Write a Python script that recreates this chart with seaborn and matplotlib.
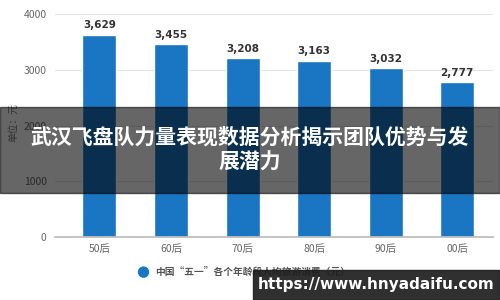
import matplotlib
matplotlib.use("Agg")
import matplotlib.pyplot as plt
import seaborn as sns
import pandas as pd
from matplotlib.patches import Rectangle, Ellipse

categories = ["50后", "60后", "70后", "80后", "90后", "00后"]
values = [3629, 3455, 3208, 3163, 3032, 2777]
yticks = [0, 1000, 2000, 3000, 4000]
legend_label = "中国“五一”各个年龄段人均旅游消费（元）"
ylabel = "单位：元"
title = "武汉飞盘队力量表现数据分析揭示团队优势与发\n展潜力"
url = "https://www.hnyadaifu.com"

sns.set_theme(style="white")
plt.rcParams['font.family'] = ['Noto Sans CJK SC', 'DejaVu Sans']

df = pd.DataFrame({"cat": categories, "val": values})
fig = plt.figure(figsize=(5, 3), dpi=100)
ax = fig.add_axes([0.11, 0.21, 0.876, 0.743])
bar_color = "#1a76c3"
sns.barplot(data=df, x="cat", y="val", color=bar_color, width=0.475, ax=ax, saturation=1)
ax.set_xlim(-0.62, 5.5)
ax.set_ylim(0, 4000)
ax.set_yticks(yticks)
ax.set_yticklabels([str(t) for t in yticks], fontsize=7.5, color="#666666")
ax.tick_params(axis='y', length=0, pad=6)
ax.tick_params(axis='x', length=3, color="#bbbbbb", labelsize=7.5, labelcolor="#666666", pad=2)
for t in yticks[1:]:
    ax.axhline(t, color="#e3e3e3", lw=0.8, zorder=0)
for s in ["top", "right", "left"]:
    ax.spines[s].set_visible(False)
ax.spines["bottom"].set_color("#bbbbbb")
ax.set_xlabel("")
ax.set_ylabel("")
fig.text(0.026, 0.59, ylabel, rotation=90, fontsize=7, color="#777777",
         ha="center", va="center")
for i, v in enumerate(values):
    ax.text(i, v + 80, f"{v:,}", ha="center", va="bottom", fontsize=7.5,
            fontweight="bold", color="#333333", family="DejaVu Sans")

# legend
fig.patches.append(Ellipse((0.287, 0.093), 0.02, 0.0333, transform=fig.transFigure,
                           color=bar_color))
fig.text(0.31, 0.093, legend_label, fontsize=7, color="#555555", va="center", ha="left",
         fontweight="bold")

# overlay band
fig.patches.append(Rectangle((0, 0.357), 1, 0.287, transform=fig.transFigure,
                             color="black", alpha=0.6, zorder=5))
fig.text(0.5, 0.5, title, ha="center", va="center", fontsize=15, color="white",
         fontweight="bold", linespacing=1.25, zorder=6)

# url box
fig.patches.append(Rectangle((0.506, 0), 0.494, 0.1, transform=fig.transFigure,
                             color="#1e1e1e", alpha=0.92, zorder=5))
fig.text(0.753, 0.05, url, ha="center", va="center", fontsize=11, color="white",
         fontweight="bold", family="DejaVu Sans", zorder=6)

fig.savefig("out.png", dpi=100)
